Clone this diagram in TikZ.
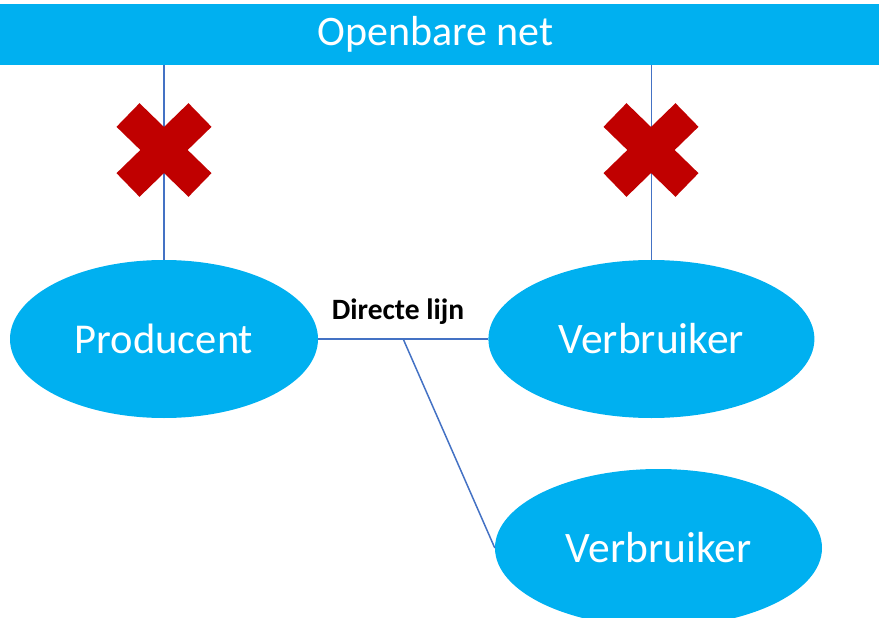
\documentclass[tikz,border=0pt]{standalone}
\usepackage{fontspec}
\setmainfont{Carlito}
\usetikzlibrary{shapes,positioning,calc}

\definecolor{netblauw}{HTML}{00B0F0}
\definecolor{lijnblauw}{HTML}{4472C4}
\definecolor{kruisrood}{HTML}{C00000}

\begin{document}
\begin{tikzpicture}[x=1pt, y=-1pt]
  \useasboundingbox (0,0) rectangle (879,618);

  \node[rectangle, fill=netblauw, draw=none, minimum width=879pt, minimum height=61pt, inner sep=0pt, text=white, font=\fontsize{42}{48}\selectfont] (net) at (439.5,34.5) {\hspace*{-8pt}Openbare net};

  \node[ellipse, fill=netblauw, draw=none, minimum width=308pt, minimum height=158pt, inner sep=0pt, text=white, font=\fontsize{42.5}{48}\selectfont] (prod) at (164,339) {Producent};
  \node[ellipse, fill=netblauw, draw=none, minimum width=326pt, minimum height=158pt, inner sep=0pt, text=white, font=\fontsize{43.5}{48}\selectfont, right = 170pt of prod] (verb1) {Verbruiker};
  \node[ellipse, fill=netblauw, draw=none, minimum width=327pt, minimum height=158pt, inner sep=0pt, text=white, font=\fontsize{43.5}{48}\selectfont] (verb2) at (658.5,548) {Verbruiker};

  \coordinate (split) at ($(prod.east)!0.5!(verb1.west)$);
  \node[font=\bfseries\fontsize{29.5}{34}\selectfont, inner sep=0pt] (dlijn) at (398,312) {Directe lijn};

  \draw[lijnblauw, line width=1.5pt] (net.south -| prod) -- (prod.north);
  \draw[lijnblauw, line width=1.5pt] (net.south -| verb1) -- (verb1.north);
  \draw[lijnblauw, line width=1.5pt] (prod.east) -- (verb1.west);
  \draw[lijnblauw, line width=1.5pt] (split) -- (verb2.west);

  % rode kruisen
  \foreach \kx in {164,651} {
    \draw[kruisrood, line width=33pt] (\kx-36,115) -- (\kx+36,185);
    \draw[kruisrood, line width=33pt] (\kx+36,115) -- (\kx-36,185);
  }
\end{tikzpicture}
\end{document}
